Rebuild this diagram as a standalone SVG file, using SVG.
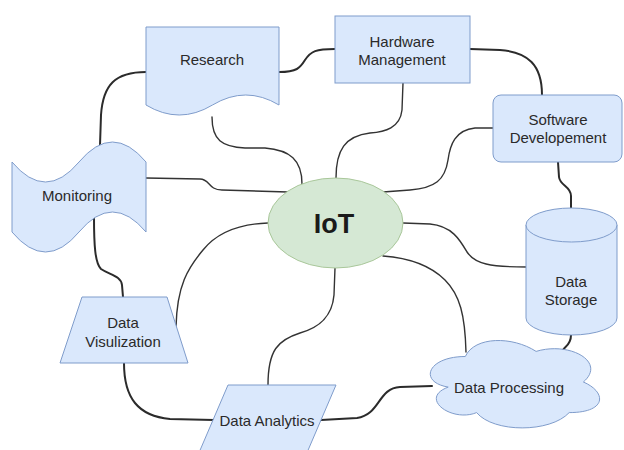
<svg xmlns="http://www.w3.org/2000/svg" width="624" height="450" viewBox="0 0 624 450">
  <style>
    .shape { fill: #dae8fc; stroke: #7f9ccb; stroke-width: 1; }
    .hub { fill: #d5e8d4; stroke: #a9c79a; stroke-width: 1; }
    .lbl { font-family: "Liberation Sans", Arial, sans-serif; font-size: 15px; fill: #2a2a2a; text-anchor: middle; }
    .hubtxt { font-family: "Liberation Sans", Arial, sans-serif; font-size: 27px; font-weight: bold; fill: #1a1a1a; text-anchor: middle; }
    .ring { fill: none; stroke: #2b2b2b; stroke-width: 2; stroke-linecap: round; }
    .spoke { fill: none; stroke: #333333; stroke-width: 1.4; stroke-linecap: round; }
  </style>
  <rect width="624" height="450" fill="#ffffff"/>

  <g id="connectors">
    <!-- outer ring -->
    <path class="ring" d="M279,72 C297,72 300,68 305,60 C311,51 316,49 335,49"/>
    <path class="ring" d="M470,49 L500,50 C528,52 542,65 542,95"/>
    <path class="ring" d="M558,162 L559,177 C560,186 571,186 571,196 L571,208"/>
    <path class="ring" d="M571,335 C571,345 565,346 563,350"/>
    <path class="ring" d="M432,386 L400,387 C378,388 380,415 357,418 L321,420"/>
    <path class="ring" d="M214,420 L170,419 C138,416 124,398 124,363"/>
    <path class="ring" d="M123,297 L122,285 C121,276 110,275 101,269 C95,263 94,245 94,217"/>
    <path class="ring" d="M100,145 L101,115 C103,85 115,72 146,72"/>
    <!-- spokes from the hub -->
    <path class="spoke" d="M212,117 C212,140 222,147 245,148 L265,148 C290,150 302,160 302,184"/>
    <path class="spoke" d="M403,83 L402,110 C400,128 385,132 370,133 C345,136 336,150 336,178"/>
    <path class="spoke" d="M493,128 L475,128 C455,130 450,145 448,160 C445,180 435,188 410,190 L383,192"/>
    <path class="spoke" d="M146,178 L200,179 C210,179 208,190 222,190 L288,192"/>
    <path class="spoke" d="M268,223 C235,224 215,235 203,250 C188,268 177,285 176,327"/>
    <path class="spoke" d="M403,223 L430,224 C452,226 460,240 467,252 C475,264 490,267 527,267"/>
    <path class="spoke" d="M383,256 C410,258 430,265 445,280 C460,295 465,315 466,352"/>
    <path class="spoke" d="M335,268 L334,295 C332,318 318,328 300,333 C278,340 268,350 268,385"/>
  </g>

  <g id="research">
    <path class="shape" d="M146,27 H279 V105 Q245.75,85 212.5,105 Q179.25,125 146,105 Z"/>
    <text class="lbl" x="212" y="65">Research</text>
  </g>

  <g id="hardware-management">
    <rect class="shape" x="335" y="16" width="135" height="67"/>
    <text class="lbl" x="402" y="47">Hardware</text>
    <text class="lbl" x="402" y="65">Management</text>
  </g>

  <g id="software-development">
    <rect class="shape" x="493" y="95" width="129" height="67" rx="8"/>
    <text class="lbl" x="558" y="125">Software</text>
    <text class="lbl" x="558" y="143">Developement</text>
  </g>

  <g id="monitoring">
    <path class="shape" d="M12,162 Q45.5,202 79,162 Q112.5,122 146,162 V232 Q112.5,192 79,232 Q45.5,272 12,232 Z"/>
    <text class="lbl" x="77" y="201">Monitoring</text>
  </g>

  <g id="data-storage">
    <path class="shape" d="M526,225 A45.5,17 0 0 1 617,225 V318 A45.5,17 0 0 1 526,318 Z"/>
    <path class="shape" fill="none" d="M526,225 A45.5,17 0 0 0 617,225"/>
    <text class="lbl" x="571" y="287">Data</text>
    <text class="lbl" x="571" y="305">Storage</text>
  </g>

  <g id="data-processing">
    <path class="shape" d="M465.3,356.5 C427.5,356.5 418,382 448.2,387.1 C418,398.3 452,422.8 476.6,412.6 C493.6,433 550.3,433 569.2,412.6 C607,412.6 607,392.2 583.4,382 C607,361.6 569.2,341.2 536.1,351.4 C512.5,336.1 474.7,336.1 465.3,356.5 Z"/>
    <text class="lbl" x="509" y="393">Data Processing</text>
  </g>

  <g id="data-analytics">
    <path class="shape" d="M228,385 H336 L306,455 H198 Z"/>
    <text class="lbl" x="267" y="426">Data Analytics</text>
  </g>

  <g id="data-visualization">
    <path class="shape" d="M82,297 H167 L188,363 H60 Z"/>
    <text class="lbl" x="123" y="328">Data</text>
    <text class="lbl" x="123" y="347">Visulization</text>
  </g>

  <g id="iot">
    <ellipse class="hub" cx="335.5" cy="223" rx="67.5" ry="45"/>
    <text class="hubtxt" x="334" y="233">IoT</text>
  </g>
</svg>
